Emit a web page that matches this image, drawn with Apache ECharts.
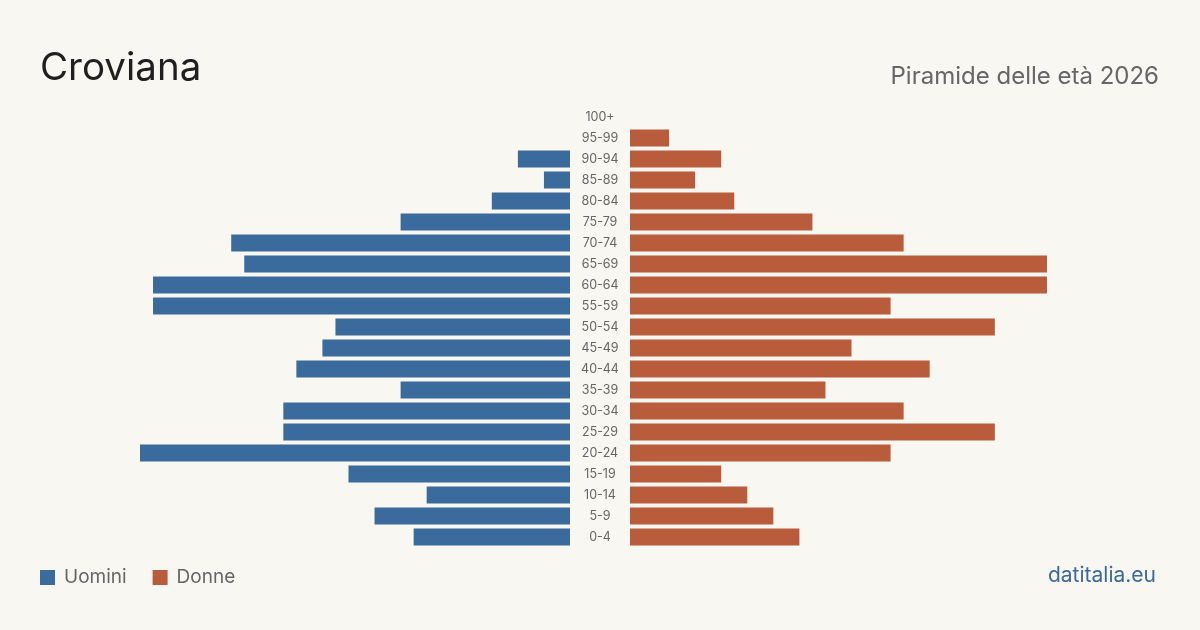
<!DOCTYPE html>
<html>
<head>
<meta charset="utf-8">
<script src="https://cdn.jsdelivr.net/npm/echarts@6/dist/echarts.min.js"></script>
<style>
  html, body { margin: 0; padding: 0; background: #f9f7f2; }
  #chart { width: 1200px; height: 630px; }
</style>
</head>
<body>
<div id="chart"></div>
<script>
// classi di età, dal basso verso l'alto
const ageGroups = ['0-4', '5-9', '10-14', '15-19', '20-24', '25-29', '30-34', '35-39', '40-44', '45-49',
  '50-54', '55-59', '60-64', '65-69', '70-74', '75-79', '80-84', '85-89', '90-94', '95-99', '100+']
const uomini = [12, 15, 11, 17, 33, 22, 22, 13, 21, 19, 18, 32, 32, 25, 26, 13, 6, 2, 4, 0, 0]
const donne = [13, 11, 9, 7, 20, 28, 21, 15, 23, 17, 28, 20, 32, 32, 21, 14, 8, 5, 7, 3, 0]
const maxVal = 33

const blue = '#3a6b9c'
const orange = '#b95c3b'
const font = 'Inter, "Liberation Sans", sans-serif'

const chart = echarts.init(document.getElementById('chart'))

const option = {
  backgroundColor: '#f9f7f2',
  animation: false,
  textStyle: { fontFamily: font },
  title: [
    {
      text: 'Croviana',
      left: 35,
      top: 44,
      textStyle: { fontFamily: font, fontSize: 38.5, fontWeight: 'normal', color: '#1f1f1f' }
    },
    {
      text: 'Piramide delle età 2026',
      right: 36,
      top: 60,
      textStyle: { fontFamily: font, fontSize: 24, fontWeight: 'normal', color: '#666' }
    },
    {
      text: 'datitalia.eu',
      right: 39,
      top: 560,
      textStyle: { fontFamily: font, fontSize: 21, fontWeight: 'normal', color: '#3a6b9c' }
    }
  ],
  legend: {
    left: 35,
    top: 563,
    itemWidth: 15,
    itemHeight: 15,
    itemGap: 26,
    icon: 'rect',
    textStyle: { fontFamily: font, fontSize: 19, color: '#666', padding: [0, 0, 0, 4] },
    data: ['Uomini', 'Donne']
  },
  grid: [
    { left: 140, width: 430, top: 106.5, height: 441 },
    { left: 630, width: 430, top: 106.5, height: 441 }
  ],
  xAxis: [
    { gridIndex: 0, type: 'value', min: 0, max: maxVal, inverse: true, show: false },
    { gridIndex: 1, type: 'value', min: 0, max: maxVal, show: false }
  ],
  yAxis: [
    {
      gridIndex: 0,
      type: 'category',
      data: ageGroups,
      position: 'right',
      axisLine: { show: false },
      axisTick: { show: false },
      axisLabel: { margin: 30, align: 'center', fontSize: 12.5, color: '#666', fontFamily: font }
    },
    {
      gridIndex: 1,
      type: 'category',
      data: ageGroups,
      axisLine: { show: false },
      axisTick: { show: false },
      axisLabel: { show: false }
    }
  ],
  series: [
    {
      name: 'Uomini',
      type: 'bar',
      xAxisIndex: 0,
      yAxisIndex: 0,
      barCategoryGap: '19%',
      itemStyle: { color: blue },
      data: uomini
    },
    {
      name: 'Donne',
      type: 'bar',
      xAxisIndex: 1,
      yAxisIndex: 1,
      barCategoryGap: '19%',
      itemStyle: { color: orange },
      data: donne
    }
  ]
}

chart.setOption(option)
</script>
</body>
</html>
